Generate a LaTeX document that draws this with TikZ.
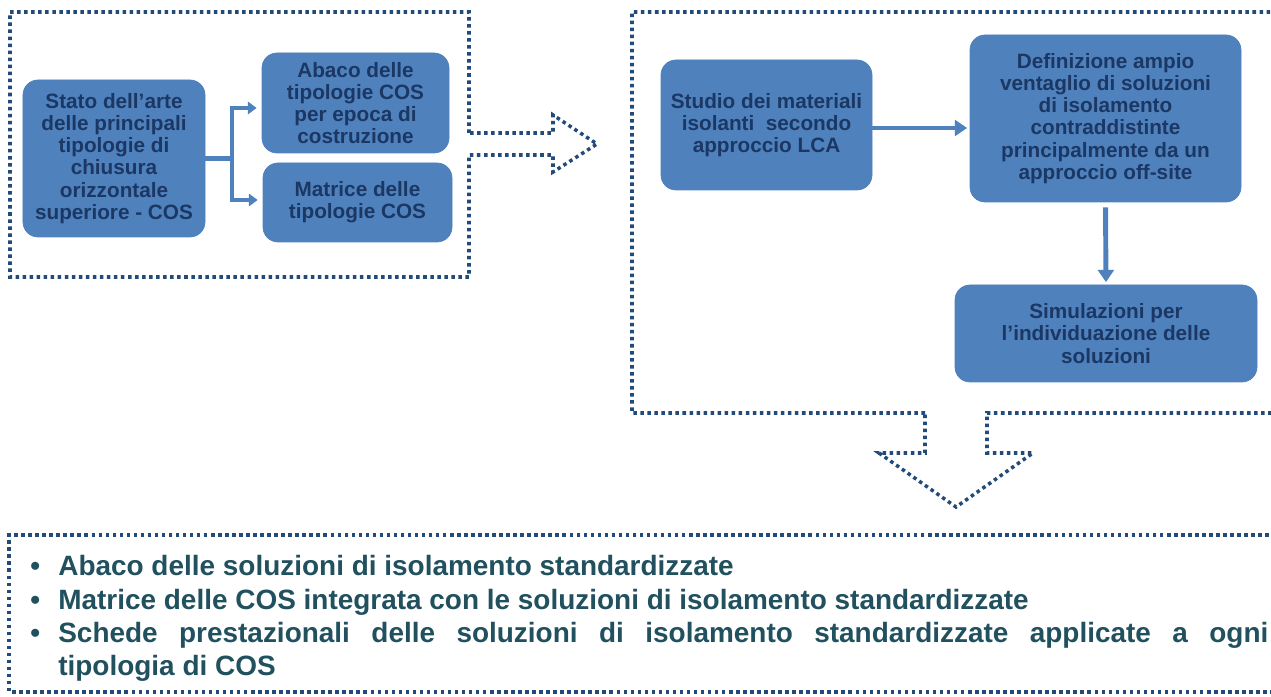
\documentclass[tikz,border=0pt]{standalone}
\usepackage{fontspec}
\setmainfont{Liberation Sans}
\usepackage{xcolor}
\usetikzlibrary{
    arrows.meta,
    calc,
    positioning
}
\definecolor{boxblue}{HTML}{4F81BD}
\definecolor{boxtext}{HTML}{1B3764}
\definecolor{dotblue}{HTML}{234B7A}
\definecolor{listteal}{HTML}{21505F}
\newcommand{\voce}{\makebox[5.6mm][l]{\textbullet}}

\begin{document}
\begin{tikzpicture}[x=0.2mm,y=-0.2mm,
    cosbox/.style={fill=boxblue, draw=boxblue, rounded corners=3mm, align=center,
        text=boxtext, inner sep=1pt, font=\fontsize{11.8}{12.6}\selectfont\bfseries},
    dotline/.style={draw=dotblue, line width=2pt, dash pattern=on 2pt off 2pt},
    trunk/.style={draw=boxblue, line width=2.3pt},
    flow/.style={trunk, shorten >=1mm, -{Triangle[length=5pt,width=7pt]}},
    bigflow/.style={draw=boxblue, line width=2.8pt, -{Triangle[length=7pt,width=9pt]}}
]
\useasboundingbox (0,0) rectangle (1271,697);

% Left panel: dotted frame ending in an outlined arrow
\draw[dotline] (469,133) -- (469,12) -- (10,12) -- (10,277) -- (469,277) -- (469,155)
    -- (553,155) -- (553,172) -- (597,144) -- (553,115) -- (553,133) -- cycle;

\node[cosbox, minimum width=36.4mm, minimum height=31.4mm] (stato) at (114,158.5)
    {Stato dell’arte\\delle principali\\tipologie di\\chiusura\\orizzontale\\superiore - COS};
\node[cosbox, minimum width=37.4mm, minimum height=20mm] (abaco) at (355.5,103)
    {Abaco delle\\tipologie COS\\per epoca di\\costruzione};
\node[cosbox, minimum width=37.8mm, minimum height=15.8mm] (matrice) at (357.5,202.5)
    {Matrice delle\\tipologie COS};

\coordinate (ramo) at ($(stato.east)+(27,0)$);
\draw[trunk] (stato.east) -- (ramo);
\draw[flow] (ramo) |- ([yshift=-1mm]abaco.west);
\draw[flow] (ramo) |- ([yshift=0.5mm]matrice.west);

% Right panel: dotted frame with outlined arrow pointing down
\draw[dotline] (925,413) -- (632,413) -- (632,12) -- (1290,12) -- (1290,413) -- (987,413)
    -- (987,453) -- (1033,453) -- (956,507) -- (879,453) -- (925,453) -- cycle;

\node[cosbox, minimum width=42.2mm, minimum height=26mm] (studio) at (766.5,125)
    {Studio dei materiali\\isolanti \ secondo\\approccio LCA};
\node[cosbox, minimum width=54.2mm, minimum height=33.4mm] (definizione) at (1105.5,118.5)
    {Definizione ampio\\ventaglio di soluzioni\\di isolamento\\contraddistinte\\principalmente da un\\approccio off-site};
\node[cosbox, minimum width=60.4mm, minimum height=19.4mm] (simulazioni) at (1106,333.5)
    {Simulazioni per\\l’individuazione delle\\soluzioni};

\draw[bigflow, shorten >=0.5mm] ([yshift=-0.6mm]studio.east) -- ([yshift=-0.6mm]studio.east -| definizione.west);
\draw[bigflow, shorten <=1mm, shorten >=0.5mm] (definizione.south) -- (simulazioni.north);

% Bottom panel: results
\draw[dotline] (1290,535) -- (9,535) -- (9,692) -- (1290,692);

\node[anchor=base west, inner sep=0, text=listteal, font=\fontsize{15.9}{18.8}\selectfont\bfseries]
    (risultati) at (30,576) {\parbox[t]{247.6mm}{%
    \voce Abaco delle soluzioni di isolamento standardizzate\par
    \voce Matrice delle COS integrata con le soluzioni di isolamento standardizzate\par
    \hangindent=5.6mm \hangafter=1
    \voce Schede prestazionali delle soluzioni di isolamento standardizzate applicate a ogni\linebreak
    tipologia di COS\par}};
\end{tikzpicture}
\end{document}
